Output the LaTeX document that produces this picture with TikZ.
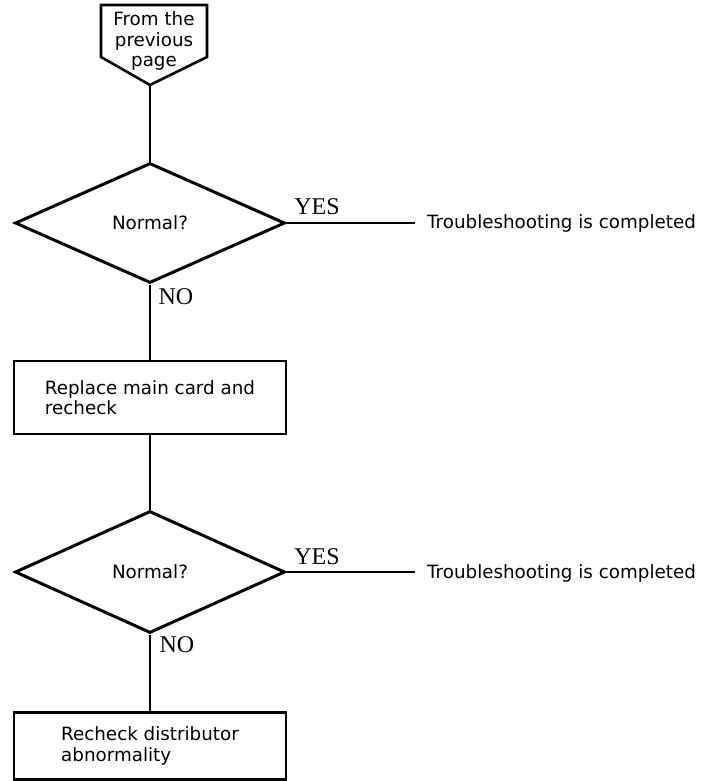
\documentclass[tikz,border=0pt]{standalone}
\usepackage{fontspec}
\setsansfont{DejaVu Sans}
\newfontfamily\labfont{Liberation Serif}
\usetikzlibrary{shapes.geometric}
\begin{document}
\begin{tikzpicture}[x=1pt,y=-1pt,
  sans/.style={font=\sffamily\fontsize{18.3}{20.5}\selectfont},
  decision/.style={diamond, draw, line width=3pt, inner sep=0pt,
    minimum width=270pt, minimum height=120pt, aspect=2.25, sans},
  action/.style={draw, line width=2.6pt, rectangle, sans, align=left,
    inner sep=0pt, minimum width=272pt},
  link/.style={line width=2pt},
  yesline/.style={line width=1.6pt},
  lab/.style={font=\labfont\fontsize{24}{26}\selectfont, inner sep=0pt},
  done/.style={sans, anchor=west, inner xsep=12pt, inner ysep=0pt}]
\useasboundingbox (0,0) rectangle (706,781);

% off-page connector
\draw[line width=2.6pt, line join=miter]
  (101,5) -- (207,5) -- (207,57) -- (150,85) -- (101,57) -- cycle;
\node[sans, align=center, inner sep=0pt] (start) at (154,41)
  {From the\\previous\\page};
\coordinate (startpt) at (150,85);

% first decision
\node[decision] (d1) at (150,223) {Normal?};
\node[lab] (y1) at (317,207) {YES};
\node[lab] (n1) at (176,297) {NO};
\node[done] (t1) at (415,223) {Troubleshooting is completed};

% first action
\node[action, minimum height=73pt] (b1) at (150,397.5)
  {Replace main card and\\recheck};

% second decision
\node[decision, minimum height=122pt] (d2) at (150,572) {Normal?};
\node[lab] (y2) at (317,557) {YES};
\node[lab] (n2) at (177,645) {NO};
\node[done] (t2) at (415,573) {Troubleshooting is completed};

% second action
\node[action, minimum height=67pt] (b2) at (150,746)
  {Recheck distributor\\abnormality};

% connectors
\draw[link] (startpt) -- (d1.north);
\draw[link] (d1.south) -- (b1.north);
\draw[link] (b1.south) -- (d2.north);
\draw[link] (d2.south) -- (b2.north);
\draw[yesline] (d1.east) -- (t1.west);
\draw[yesline] (d2.east) -- (d2.east -| t2.west);
\end{tikzpicture}
\end{document}
